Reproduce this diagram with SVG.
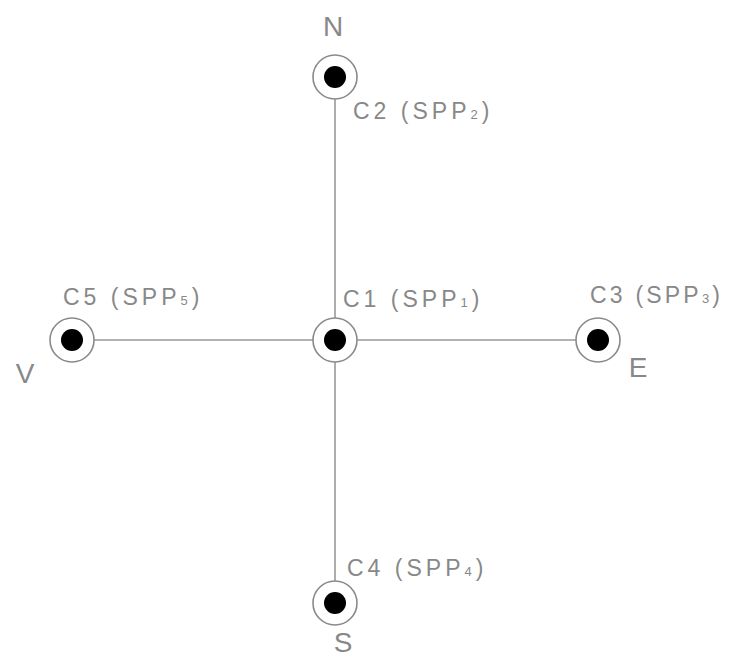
<svg xmlns="http://www.w3.org/2000/svg" width="729" height="660" viewBox="0 0 729 660">
<style>
.ring{fill:#fff;stroke:#8a8a8a;stroke-width:1.6}
.dot{fill:#000}
.ln{stroke:#999;stroke-width:1.6;fill:none}
.lbl{font-family:"Liberation Sans",Arial,sans-serif;font-size:23px;fill:#888;letter-spacing:4px}
.sub{font-size:13px}
.dir{font-family:"Liberation Sans",Arial,sans-serif;font-size:28px;fill:#888}
</style>
<rect width="729" height="660" fill="#fff"/>
<g id="connectors">
<line class="ln" x1="335" y1="99" x2="335" y2="318"/>
<line class="ln" x1="335" y1="362" x2="335" y2="581"/>
<line class="ln" x1="94" y1="340" x2="313" y2="340"/>
<line class="ln" x1="357" y1="340" x2="576" y2="340"/>
</g>
<g id="C2">
<circle class="ring" cx="335" cy="77" r="22"/>
<circle class="dot" cx="335" cy="77" r="11"/>
<text class="dir" x="333" y="36" text-anchor="middle">N</text>
<text class="lbl" x="353" y="119">C2 (SPP<tspan class="sub">2</tspan>)</text>
</g>
<g id="C1">
<circle class="ring" cx="335" cy="340" r="22"/>
<circle class="dot" cx="335" cy="340" r="11"/>
<text class="lbl" x="343" y="307">C1 (SPP<tspan class="sub">1</tspan>)</text>
</g>
<g id="C5">
<circle class="ring" cx="72" cy="340" r="22"/>
<circle class="dot" cx="72" cy="340" r="11"/>
<text class="dir" x="25" y="383" text-anchor="middle">V</text>
<text class="lbl" x="63" y="305">C5 (SPP<tspan class="sub">5</tspan>)</text>
</g>
<g id="C3">
<circle class="ring" cx="598" cy="340" r="22"/>
<circle class="dot" cx="598" cy="340" r="11"/>
<text class="dir" x="638" y="377" text-anchor="middle">E</text>
<text class="lbl" x="590" y="303" style="letter-spacing:3.2px">C3 (SPP<tspan class="sub">3</tspan>)</text>
</g>
<g id="C4">
<circle class="ring" cx="335" cy="603" r="22"/>
<circle class="dot" cx="335" cy="603" r="11"/>
<text class="dir" x="343" y="652" text-anchor="middle">S</text>
<text class="lbl" x="347" y="576">C4 (SPP<tspan class="sub">4</tspan>)</text>
</g>
</svg>
